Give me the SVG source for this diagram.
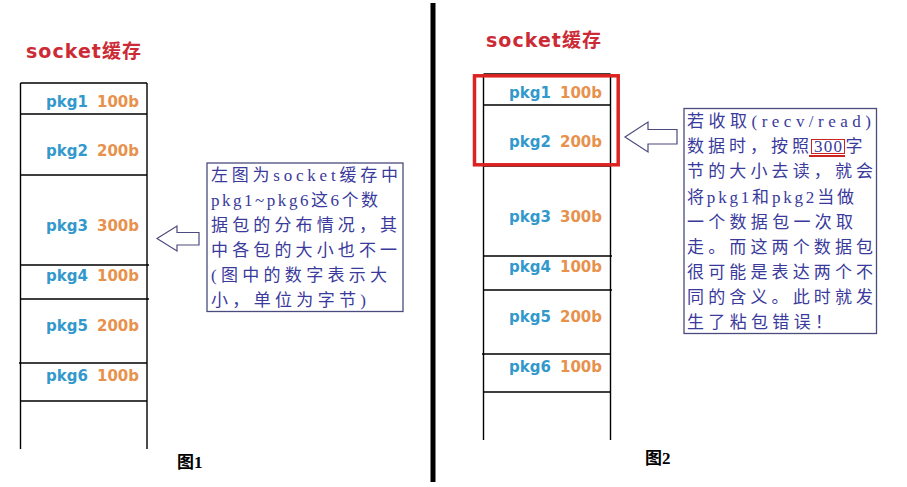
<svg xmlns="http://www.w3.org/2000/svg" width="907" height="487" viewBox="0 0 907 487">
<style>
.title{font-family:"DejaVu Sans","Noto Sans CJK SC",sans-serif;font-weight:bold;font-size:19px;fill:#cc2b36}
.pk{font-family:"DejaVu Sans",sans-serif;font-weight:bold;font-size:15px;fill:#3399cc}
.sz{font-family:"DejaVu Sans",sans-serif;font-weight:bold;font-size:15px;fill:#e8914d}
.stack{stroke:#000;stroke-width:1.4;fill:none}
.box{fill:#fff;stroke:#4b4b7d;stroke-width:1.3}
.bt{font-family:"Liberation Serif","Noto Sans CJK SC",serif;font-size:17px;fill:#3a3a9c}
.arrow{fill:#fff;stroke:#4b4b7d;stroke-width:1.2}
.cap{font-family:"Liberation Serif","Noto Sans CJK SC",serif;font-size:17px;font-weight:bold;fill:#000}
</style>
<rect width="907" height="487" fill="#fff"/>
<rect x="430.5" y="3" width="5" height="479" fill="#000"/>

<g id="fig1">
  <text class="title" x="26" y="58" textLength="115" lengthAdjust="spacing">socket缓存</text>
  <g id="stack1" class="stack">
    <path d="M20.5 83V449M147 83V449M20.5 83H147M20.5 114H147M20.5 175H147M20.5 265H149M20.5 299H149M19 363H147M20.5 401H147"/>
  </g>
  <g id="pkg1-l"><text class="pk" x="46" y="106.5">pkg1</text><text class="sz" x="97" y="106.5">100b</text></g>
  <g id="pkg2-l"><text class="pk" x="46" y="156">pkg2</text><text class="sz" x="97" y="156">200b</text></g>
  <g id="pkg3-l"><text class="pk" x="46" y="231">pkg3</text><text class="sz" x="97" y="231">300b</text></g>
  <g id="pkg4-l"><text class="pk" x="46" y="281">pkg4</text><text class="sz" x="97" y="281">100b</text></g>
  <g id="pkg5-l"><text class="pk" x="46" y="331">pkg5</text><text class="sz" x="97" y="331">200b</text></g>
  <g id="pkg6-l"><text class="pk" x="46" y="381">pkg6</text><text class="sz" x="97" y="381">100b</text></g>
  <g id="note1">
    <rect class="box" x="207" y="163" width="196" height="148.5"/>
    <text class="bt" x="211" y="180.5" textLength="187" lengthAdjust="spacing">左图为socket缓存中</text>
    <text class="bt" x="211" y="205.5" textLength="167" lengthAdjust="spacing">pkg1~pkg6这6个数</text>
    <text class="bt" x="211" y="230.5" textLength="186" lengthAdjust="spacing">据包的分布情况，其</text>
    <text class="bt" x="211" y="255.5" textLength="186" lengthAdjust="spacing">中各包的大小也不一</text>
    <text class="bt" x="211" y="280.5" textLength="176" lengthAdjust="spacing">(图中的数字表示大</text>
    <text class="bt" x="211" y="305.5" textLength="155" lengthAdjust="spacing">小，单位为字节)</text>
  </g>
  <text class="cap" x="177" y="468">图1</text>
</g>

<g id="fig2">
  <text class="title" x="486" y="47" textLength="115" lengthAdjust="spacing">socket缓存</text>
  <g id="stack2" class="stack">
    <path d="M483.5 74V440M610.5 74V440M483.5 74H610.5M483.5 105H610.5M483.5 166H610.5M483.5 256H612M483.5 290H612M482 354H610.5M483.5 392H610.5"/>
  </g>
  <g id="pkg1-r"><text class="pk" x="509" y="97.5">pkg1</text><text class="sz" x="560" y="97.5">100b</text></g>
  <g id="pkg2-r"><text class="pk" x="509" y="147">pkg2</text><text class="sz" x="560" y="147">200b</text></g>
  <g id="pkg3-r"><text class="pk" x="509" y="222">pkg3</text><text class="sz" x="560" y="222">300b</text></g>
  <g id="pkg4-r"><text class="pk" x="509" y="272">pkg4</text><text class="sz" x="560" y="272">100b</text></g>
  <g id="pkg5-r"><text class="pk" x="509" y="322">pkg5</text><text class="sz" x="560" y="322">200b</text></g>
  <g id="pkg6-r"><text class="pk" x="509" y="372">pkg6</text><text class="sz" x="560" y="372">100b</text></g>
  <rect id="highlight" x="474.5" y="75.8" width="143.7" height="89" fill="none" stroke="#dd2222" stroke-width="3.5"/>
  <g id="note2">
    <rect class="box" x="684" y="108.5" width="192.5" height="225"/>
    <text class="bt" x="687" y="127" textLength="184" lengthAdjust="spacing">若收取(recv/read)</text>
    <text class="bt" x="687" y="152" textLength="122" lengthAdjust="spacing">数据时，按照</text>
    <text class="bt" x="814" y="152" textLength="28" lengthAdjust="spacing">300</text>
    <text class="bt" x="845.5" y="152">字</text>
    <text class="bt" x="687" y="177" textLength="186" lengthAdjust="spacing">节的大小去读，就会</text>
    <text class="bt" x="687" y="202.5" textLength="167" lengthAdjust="spacing">将pkg1和pkg2当做</text>
    <text class="bt" x="687" y="227.5" textLength="166" lengthAdjust="spacing">一个数据包一次取</text>
    <text class="bt" x="687" y="252.5" textLength="186" lengthAdjust="spacing">走。而这两个数据包</text>
    <text class="bt" x="687" y="277.5" textLength="186" lengthAdjust="spacing">很可能是表达两个不</text>
    <text class="bt" x="687" y="302.5" textLength="186" lengthAdjust="spacing">同的含义。此时就发</text>
    <text class="bt" x="687" y="327.5" textLength="145" lengthAdjust="spacing">生了粘包错误！</text>
    <rect x="811.5" y="139.5" width="33" height="14" fill="none" stroke="#cc2222" stroke-width="1"/>
    <line x1="809" y1="156" x2="845" y2="156" stroke="#cc2222" stroke-width="2"/>
  </g>
  <text class="cap" x="645" y="464">图2</text>
</g>

<g id="connectors">
  <polygon class="arrow" points="157,238.5 177,226 177,232.5 199,232.5 199,245 177,245 177,251"/>
  <polygon class="arrow" points="625,137 648,122 648,129.5 677,129.5 677,144 648,144 648,152"/>
</g>
</svg>
